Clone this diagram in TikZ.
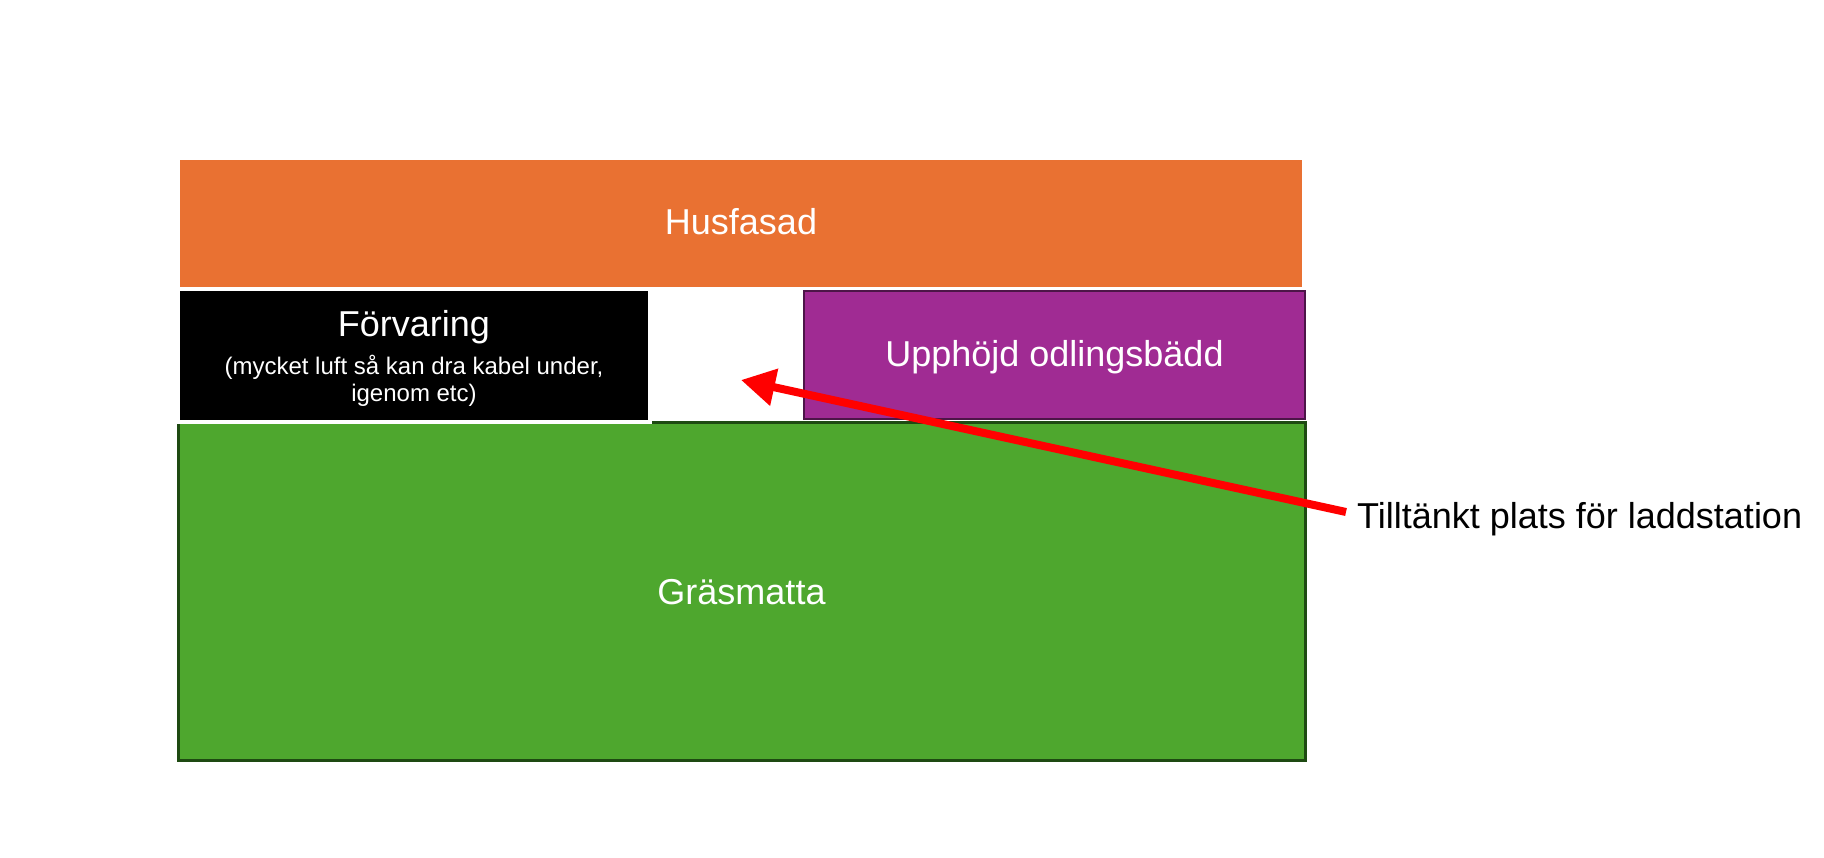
\documentclass[tikz,border=0pt]{standalone}
\usepackage{fontspec}
\setmainfont{Liberation Sans}
\usetikzlibrary{arrows.meta}
\definecolor{orangeA}{HTML}{E97132}
\definecolor{greenA}{HTML}{4EA72E}
\definecolor{greenB}{HTML}{1E4A12}
\definecolor{purpleA}{HTML}{A02B93}
\definecolor{purpleB}{HTML}{4D1548}
\definecolor{redA}{HTML}{FF0000}
\tikzset{
  area/.style={rectangle, inner sep=0pt, outer sep=0pt},
  bigtext/.style={font=\fontsize{36}{40}\selectfont, text=white, inner sep=0pt, anchor=base},
  smalltext/.style={font=\fontsize{24}{28}\selectfont, text=white, inner sep=0pt, anchor=base},
  pointer/.style={draw=redA, line width=8pt, -{Triangle[length=34pt,width=36pt]}},
}
\begin{document}
\begin{tikzpicture}[x=1pt,y=-1pt]
\useasboundingbox[fill=white] (0,0) rectangle (1824,858);
% boxes
\node[area, fill=orangeA, minimum width=1122pt, minimum height=127pt] (husfasad) at (741,223.5) {};
\node[area, fill=greenA, draw=greenB, line width=3pt, minimum width=1127pt, minimum height=337pt] (gras) at (741.5,591.5) {};
\node[area, fill=purpleA, draw=purpleB, line width=2.5pt, minimum width=501pt, minimum height=128pt] (odling) at (1054.5,355) {};
\node[area, fill=black, draw=white, line width=4pt, minimum width=472pt, minimum height=133pt] (forvaring) at (414,355.5) {};
% texts
\node[bigtext] (tHus) at (741,235) {Husfasad};
\node[bigtext] (tForv) at (414,337) {Förvaring};
\node[smalltext] (tSub1) at (414,375) {(mycket luft så kan dra kabel under,};
\node[smalltext] (tSub2) at (414,402) {igenom etc)};
\node[bigtext] (tOdl) at (1054.5,367) {Upphöjd odlingsbädd};
\node[bigtext] (tGras) at (741.5,604) {Gräsmatta};
\node[bigtext, text=black, anchor=base west] (tLadd) at (1357,528) {Tilltänkt plats för laddstation};
% arrow
\coordinate (tail) at (1346,512);
\coordinate (spot) at (741,380);
\draw[pointer] (tail) -- (spot);
\end{tikzpicture}
\end{document}
